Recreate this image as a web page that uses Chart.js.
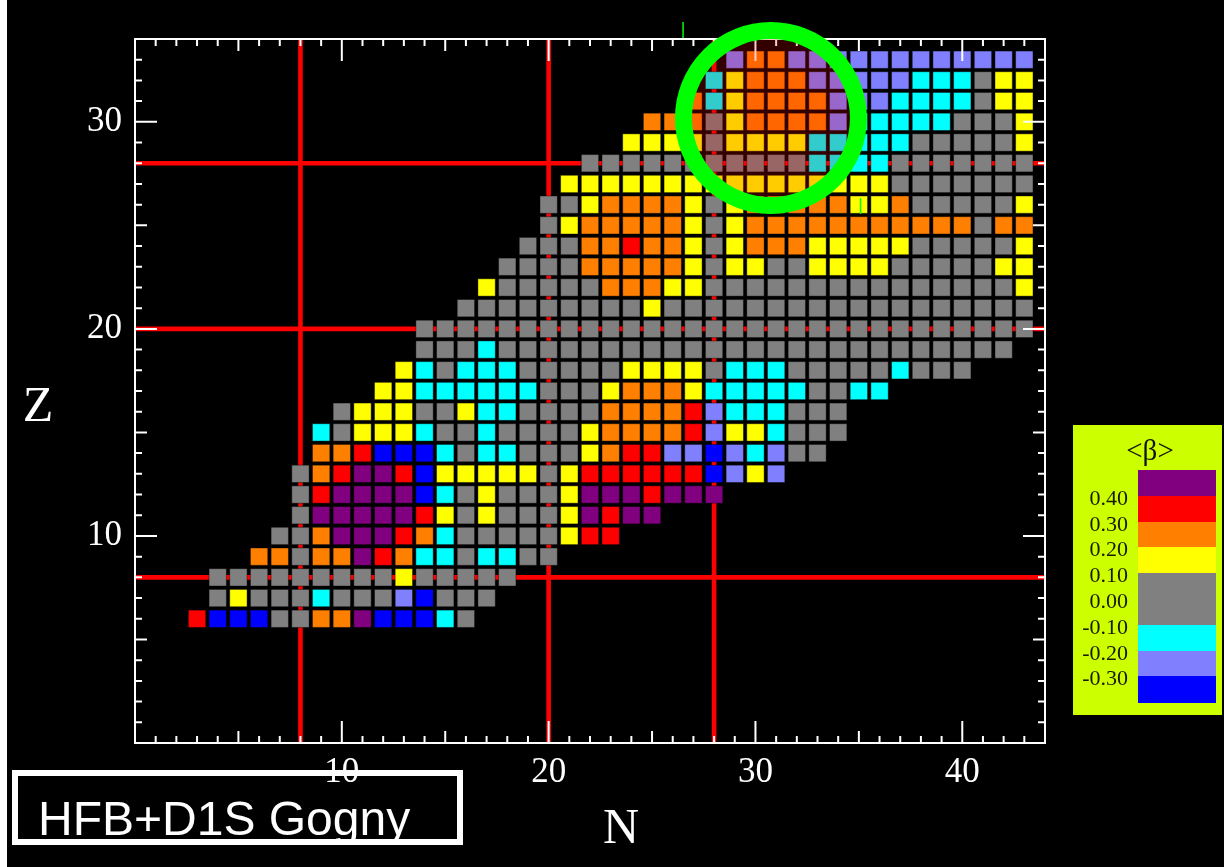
<!DOCTYPE html>
<html>
<head>
<meta charset="utf-8">
<title>HFB+D1S Gogny deformation map</title>
<script src="https://cdn.jsdelivr.net/npm/chart.js@4.4.1/dist/chart.umd.min.js"></script>
<style>
  html, body { margin: 0; padding: 0; background: #000; }
  body { width: 1224px; height: 867px; position: relative; overflow: hidden; }
  #chart { position: absolute; left: 0; top: 0; }
  .edge { position: absolute; left: 0; top: 0; width: 7px; height: 867px; background: #fff; }
  #modelBox { position: absolute; left: 12px; top: 770px; width: 451px; height: 75px;
              border: 6px solid #fff; box-sizing: border-box; }
  #modelLabel { position: absolute; left: 38px; top: 795px; color: #fff; white-space: nowrap;
                font: 48px/48px "Liberation Sans", Arial, sans-serif; }
  #key { position: absolute; left: 1073px; top: 425px; width: 149px; height: 290px; background: #ccff00; }
  #key .title { position: absolute; left: 0; width: 154px; top: 9px; text-align: center; color: #111;
                font: 29px/32px "Liberation Serif", "Times New Roman", serif; }
  #key .band { position: absolute; left: 65px; width: 78px; }
  #key .lab { position: absolute; left: 0; width: 55px; text-align: right; color: #1a1a00;
              font: 22px/20px "Liberation Serif", "Times New Roman", serif; }
</style>
</head>
<body>
<canvas id="chart" width="1224" height="867"></canvas>
<div class="edge"></div>
<div id="key"><div class="title">&lt;β&gt;</div></div>
<div id="modelBox"></div>
<div id="modelLabel">HFB+D1S Gogny</div>
<script>
// ---- data -------------------------------------------------------------
// Mean quadrupole deformation <β> per nucleus, one string per proton
// number Z; each letter is the <β> band of the nucleus with neutron
// number N = firstNeutron + position in the string.
const betaOfClass = { P: 0.45, R: 0.35, O: 0.25, Y: 0.15, G: 0.0, C: -0.15, L: -0.25, B: -0.35 };

const protonNumbers = [6, 7, 8, 9, 10, 11, 12, 13, 14, 15, 16, 17, 18, 19, 20,
                       21, 22, 23, 24, 25, 26, 27, 28, 29, 30, 31, 32, 33];
const firstNeutron  = [3, 4, 4, 6, 7, 8, 8, 8, 9, 9, 10, 12, 13, 14, 14,
                       16, 17, 18, 19, 20, 20, 21, 22, 24, 25, 27, 28, 29];
const betaRows = [
  "RBBBGGOOPBBBCG",                   // Z = 6
  "GYGGGCGGGLBGGG",                   // Z = 7
  "GGGGGGGGGYGGGGG",                  // Z = 8
  "OOGOOPROCCGCCGG",                  // Z = 9
  "GGOPPPROCGGGGGYRR",                // Z = 10
  "GPPPPPRYGYGGGYPRPP",               // Z = 11
  "GRPPPPBCGYGGGYPPPRPPP",            // Z = 12
  "GORPPRBYYYYYGYRRRRRRBLYL",         // Z = 13
  "OORBBBCGCCGGGYORRLLBLCLGG",        // Z = 14
  "CGYYYCGGCGGGGYOOOORLYYCGGG",       // Z = 15
  "GYYYGGYCCGGGGOOOORLCCCGGG",        // Z = 16
  "YYCCCCCCGGGYOOOYCCCCCGGCC",        // Z = 17
  "YCGCCCGGGGGYYYYGCCCGGGGGCGGG",     // Z = 18
  "GGGCGGGGGGGGGGGGGGGGGGGGGGGGG",    // Z = 19
  "GGGGGGGGGGGGGGGGGGGGGGGGGGGGGG",   // Z = 20
  "GGGGGGGGGYGGGGGGGGGGGGGGGGGG",     // Z = 21
  "YGGGGGOOOYYGGGGGGGGGGGGGGGY",      // Z = 22
  "GGGGOOOOOYGYYGGYYYYGGGGGYY",       // Z = 23
  "GGGOOROOYGYOOOYYYYYGGGGGY",        // Z = 24
  "GYOOOOOYGYOOOOOOOOOOOGOO",         // Z = 25
  "GGYOOOOYGYOOOOOYYOGGGGGY",         // Z = 26
  "YYYYYYYYYYYYYYYYGGGGGGG",          // Z = 27
  "GGGGGGGGGGGCCCCGGGGGGG",           // Z = 28
  "YYYYGYYYYCCCCCGGGGGY",             // Z = 29
  "OOOGYOOOOLCCCCCGGGY",              // Z = 30
  "OCYOOOOLLLCCCCGYY",                // Z = 31
  "CYOOOLLLLLCCCGYY",                 // Z = 32
  "LOOLLLLLLLLLLLL"                   // Z = 33
];

// colour key: lower edge of each band (top to bottom) and its colour
const bandEdges  = [0.40, 0.30, 0.20, 0.10, -0.10, -0.20, -0.30, -Infinity];
const bandColors = ["#800080", "#ff0000", "#ff8000", "#ffff00", "#808080", "#00ffff", "#8080ff", "#0000ff"];
const keyTop = 0.50, keyBottom = -0.40, keyStep = 0.10;
const keyLabels = [0.40, 0.30, 0.20, 0.10, 0.00, -0.10, -0.20, -0.30];

// magic numbers drawn as red guide lines
const magicN = [8, 20, 28];
const magicZ = [8, 20, 28];

// axis ranges and labelled ticks
const nRange = [0, 44];
const zRange = [0, 34];
const nTickLabels = [10, 20, 30, 40];
const zTickLabels = [10, 20, 30];

// highlight ring around the N ≈ 28-34, Z ≈ 28-33 region (data units)
const ring = { n: 30.75, z: 30.18, radius: 4.23, width: 17 };
const ringMarks = [ { n: 26.5, z0: 34.05, z1: 34.82 }, { n: 35.08, z0: 25.55, z1: 26.32 } ];

// ---- helpers ------------------------------------------------------------
function colorFor(beta) {
  for (let i = 0; i < bandEdges.length; i++) if (beta >= bandEdges[i] - 1e-9) return bandColors[i];
  return bandColors[bandColors.length - 1];
}

const nuclei = [];
protonNumbers.forEach((z, i) => {
  [...betaRows[i]].forEach((code, k) => {
    nuclei.push({ x: firstNeutron[i] + k, y: z, beta: betaOfClass[code] });
  });
});

const serif = '"Liberation Serif", "Times New Roman", serif';

// cell side as a fraction of one unit step on the N axis
const cellFill = 0.838;
function cellRadius(ctx) {
  const s = ctx.chart.scales.x;
  if (!s) return 12.2;
  const step = Math.abs(s.getPixelForValue(1) - s.getPixelForValue(0));
  return step * cellFill / Math.SQRT2;
}

const guideSets = [
  ...magicN.map(n => ({ data: [{ x: n, y: zRange[0] }, { x: n, y: zRange[1] }] })),
  ...magicZ.map(z => ({ data: [{ x: nRange[0], y: z }, { x: nRange[1], y: z }] }))
].map(d => ({
  ...d, showLine: true, borderColor: "#ff0000", borderWidth: 4.6,
  pointRadius: 0, order: 2, clip: 0
}));

// frame with inward tick marks on all four sides
const frameTicks = {
  id: "frameTicks",
  afterDatasetsDraw(chart) {
    const { ctx, chartArea: a, scales: { x, y } } = chart;
    const len = v => (v % 10 === 0 ? 22 : v % 5 === 0 ? 12 : 7);
    ctx.save();
    ctx.strokeStyle = "#ffffff";
    ctx.lineWidth = 2;
    ctx.beginPath();
    for (let v = nRange[0] + 1; v < nRange[1]; v++) {
      const px = x.getPixelForValue(v), l = len(v);
      ctx.moveTo(px, a.bottom); ctx.lineTo(px, a.bottom - l);
      ctx.moveTo(px, a.top);    ctx.lineTo(px, a.top + l);
    }
    for (let v = zRange[0] + 1; v < zRange[1]; v++) {
      const py = y.getPixelForValue(v), l = len(v);
      ctx.moveTo(a.left, py);  ctx.lineTo(a.left + l, py);
      ctx.moveTo(a.right, py); ctx.lineTo(a.right - l, py);
    }
    ctx.stroke();
    ctx.strokeRect(a.left, a.top, a.right - a.left, a.bottom - a.top);
    ctx.restore();
  }
};

// axis titles
const axisTitles = {
  id: "axisTitles",
  afterDraw(chart) {
    const { ctx, chartArea: a } = chart;
    ctx.save();
    ctx.fillStyle = "#ffffff";
    ctx.font = "50px " + serif;
    ctx.textAlign = "center";
    ctx.textBaseline = "alphabetic";
    ctx.fillText("Z", a.left - 97, (a.top + a.bottom) / 2 + 30);
    ctx.fillText("N", (a.left + a.right) / 2 + 31, a.bottom + 100);
    ctx.restore();
  }
};

// translucent red highlight with green ring
const highlightRing = {
  id: "highlightRing",
  afterDraw(chart) {
    const { ctx, scales: { x, y } } = chart;
    const cx = x.getPixelForValue(ring.n), cy = y.getPixelForValue(ring.z);
    const r = Math.abs(x.getPixelForValue(ring.n + ring.radius) - cx);
    ctx.save();
    ctx.beginPath();
    ctx.arc(cx, cy, r - ring.width / 2 + 0.5, 0, Math.PI * 2);
    ctx.fillStyle = "rgba(255,0,0,0.2)";
    ctx.fill();
    ctx.beginPath();
    ctx.arc(cx, cy, r, 0, Math.PI * 2);
    ctx.lineWidth = ring.width;
    ctx.strokeStyle = "#00ff00";
    ctx.stroke();
    ctx.lineWidth = 1.5;
    ringMarks.forEach(m => {
      const px = x.getPixelForValue(m.n);
      ctx.beginPath();
      ctx.moveTo(px, y.getPixelForValue(m.z0));
      ctx.lineTo(px, y.getPixelForValue(m.z1));
      ctx.stroke();
    });
    ctx.restore();
  }
};

new Chart(document.getElementById("chart"), {
  type: "scatter",
  data: {
    datasets: [
      {
        data: nuclei,
        order: 1,
        pointStyle: "rect",
        pointRadius: cellRadius,
        pointHoverRadius: cellRadius,
        pointBackgroundColor: ctx => colorFor(ctx.raw ? ctx.raw.beta : 0),
        pointBorderColor: "rgba(0,0,0,0.4)",
        pointBorderWidth: 1
      },
      ...guideSets
    ]
  },
  options: {
    responsive: false,
    devicePixelRatio: 1,
    animation: false,
    events: [],
    layout: { padding: { left: 0, top: 39, right: 179, bottom: 0 } },
    plugins: { legend: { display: false }, tooltip: { enabled: false } },
    scales: {
      x: {
        type: "linear", min: nRange[0], max: nRange[1],
        grid: { display: false, drawTicks: false },
        border: { display: false },
        ticks: { color: "#ffffff", font: { family: serif, size: 35 }, padding: 9, maxRotation: 0, autoSkip: false },
        afterBuildTicks: s => { s.ticks = nTickLabels.map(v => ({ value: v })); },
        afterFit: s => { s.height = 124; }
      },
      y: {
        type: "linear", min: zRange[0], max: zRange[1],
        grid: { display: false, drawTicks: false },
        border: { display: false },
        ticks: { color: "#ffffff", font: { family: serif, size: 35 }, padding: 13, autoSkip: false },
        afterBuildTicks: s => { s.ticks = zTickLabels.map(v => ({ value: v })); },
        afterFit: s => { s.width = 135; }
      }
    }
  },
  plugins: [frameTicks, axisTitles, highlightRing]
});

// ---- colour key ---------------------------------------------------------
(function buildKey() {
  const key = document.getElementById("key");
  const barTop = 45, bandH = 25.8;
  const nBands = Math.round((keyTop - keyBottom) / keyStep);
  for (let i = 0; i < nBands; i++) {
    const mid = keyTop - (i + 0.5) * keyStep;
    const d = document.createElement("div");
    d.className = "band";
    d.style.top = (barTop + i * bandH) + "px";
    d.style.height = (bandH + 0.6) + "px";
    d.style.background = colorFor(mid);
    key.appendChild(d);
  }
  keyLabels.forEach(v => {
    const d = document.createElement("div");
    d.className = "lab";
    const yy = barTop + (keyTop - v) / keyStep * bandH;
    d.style.top = (yy - 8) + "px";
    d.textContent = v.toFixed(2);
    key.appendChild(d);
  });
})();
</script>
</body>
</html>
